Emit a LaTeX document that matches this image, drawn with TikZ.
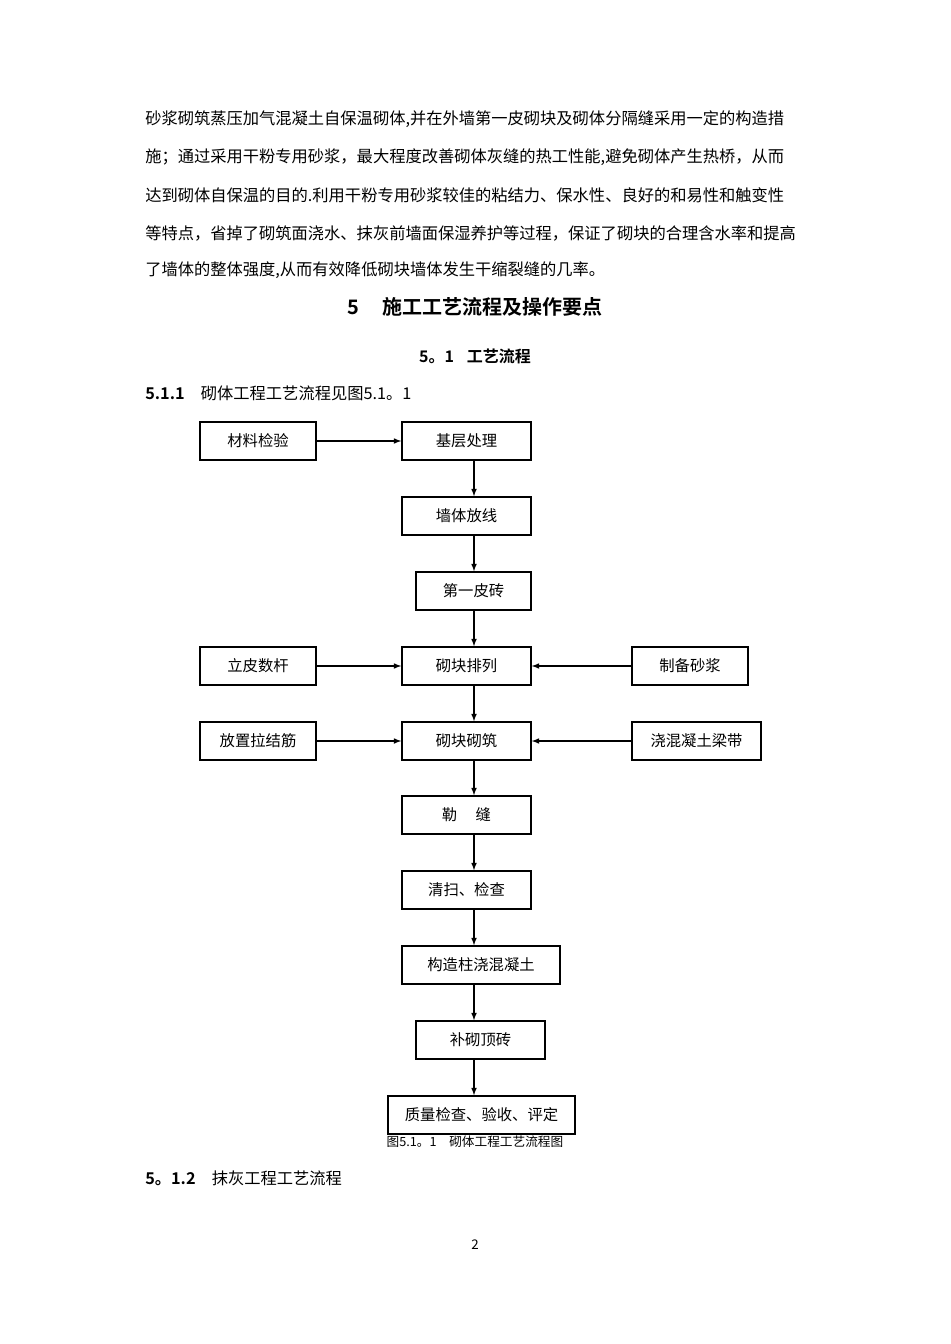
\documentclass[tikz,border=0pt]{standalone}
\usepackage{fontspec}
\setmainfont{Noto Sans CJK SC}[BoldFont={Noto Sans CJK SC Bold}]
\begin{document}
\begin{tikzpicture}[x=0.75pt,y=-0.75pt,
  box/.style={draw,line width=1.1pt,minimum height=38*0.75pt,inner sep=0pt,font=\fontsize{11.5}{13}\selectfont},
  arr/.style={-latex,line width=0.9pt},
  para/.style={anchor=west,inner sep=0pt,font=\fontsize{12.2}{14}\selectfont}]
\useasboundingbox[fill=white] (0,0) rectangle (950,1344);
\node[para] (p1) at (145,119) {砂浆砌筑蒸压加气混凝土自保温砌体,并在外墙第一皮砌块及砌体分隔缝采用一定的构造措};
\node[para] (p2) at (145,157) {施；通过采用干粉专用砂浆，最大程度改善砌体灰缝的热工性能,避免砌体产生热桥，从而};
\node[para] (p3) at (145,195) {达到砌体自保温的目的.利用干粉专用砂浆较佳的粘结力、保水性、良好的和易性和触变性};
\node[para] (p4) at (145,233) {等特点，省掉了砌筑面浇水、抹灰前墙面保湿养护等过程，保证了砌块的合理含水率和提高};
\node[para] (p5) at (145,270) {了墙体的整体强度,从而有效降低砌块墙体发生干缩裂缝的几率。};
\node[font=\fontsize{15}{17}\selectfont\bfseries] (h1) at (475,307) {5\hspace{1.2em}施工工艺流程及操作要点};
\node[font=\fontsize{12}{14}\selectfont\bfseries] (h2) at (475,356) {5。1\hspace{0.8em}工艺流程};
\node[para] (h3) at (145,393) {\textbf{5.1.1}\hspace{1em}砌体工程工艺流程见图5.1。1};

\node[box,minimum width=116*0.75pt] (a1) at (258,441) {材料检验};
\node[box,minimum width=129*0.75pt] (b1) at (466.5,441) {基层处理};
\node[box,minimum width=129*0.75pt] (b2) at (466.5,516) {墙体放线};
\node[box,minimum width=115*0.75pt] (b3) at (473.5,591) {第一皮砖};
\node[box,minimum width=116*0.75pt] (a4) at (258,666) {立皮数杆};
\node[box,minimum width=129*0.75pt] (b4) at (466.5,666) {砌块排列};
\node[box,minimum width=116*0.75pt] (c4) at (690,666) {制备砂浆};
\node[box,minimum width=116*0.75pt] (a5) at (258,741) {放置拉结筋};
\node[box,minimum width=129*0.75pt] (b5) at (466.5,741) {砌块砌筑};
\node[box,minimum width=129*0.75pt] (c5) at (696.5,741) {浇混凝土梁带};
\node[box,minimum width=129*0.75pt] (b6) at (466.5,815) {勒\hspace{1.2em}缝};
\node[box,minimum width=129*0.75pt] (b7) at (466.5,890) {清扫、检查};
\node[box,minimum width=158*0.75pt] (b8) at (481,965) {构造柱浇混凝土};
\node[box,minimum width=129*0.75pt] (b9) at (480.5,1040) {补砌顶砖};
\node[box,minimum width=187*0.75pt] (b10) at (481.5,1115) {质量检查、验收、评定};

\foreach \s/\t in {b1/b2,b2/b3,b3/b4,b4/b5,b5/b6,b6/b7,b7/b8,b8/b9,b9/b10}
  \draw[arr] (\s.south -| 474,0) -- (\t.north -| 474,0);
\draw[arr] (a1) -- (b1);
\draw[arr] (a4) -- (b4);
\draw[arr] (c4) -- (b4);
\draw[arr] (a5) -- (b5);
\draw[arr] (c5) -- (b5);

\node[font=\fontsize{9.5}{11}\selectfont] (cap) at (475,1142) {图5.1。1\hspace{1em}砌体工程工艺流程图};
\node[para] (h4) at (145,1178) {\textbf{5。1.2}\hspace{1em}抹灰工程工艺流程};
\node[font=\fontsize{10}{12}\selectfont] (pg) at (475,1245) {2};
\end{tikzpicture}
\end{document}
